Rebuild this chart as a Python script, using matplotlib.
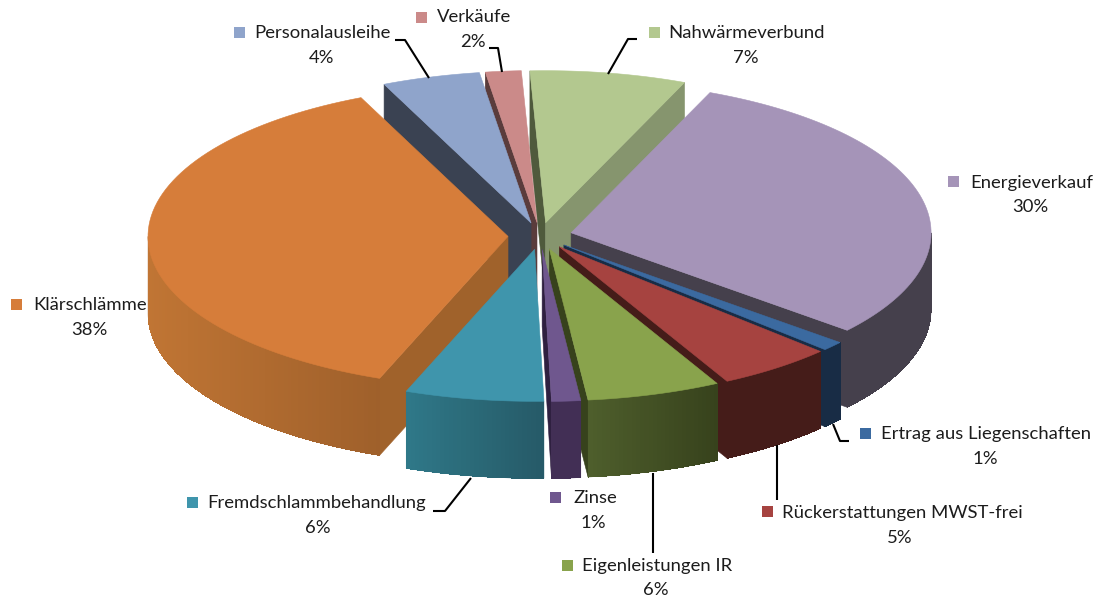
import numpy as np
import matplotlib
matplotlib.use("Agg")
import matplotlib.pyplot as plt
from matplotlib.collections import PolyCollection
from matplotlib.patches import Polygon, Rectangle

categories = ["Energieverkauf", "Ertrag aus Liegenschaften", "Rückerstattungen MWST-frei",
              "Eigenleistungen IR", "Zinse", "Fremdschlammbehandlung", "Klärschlämme",
              "Personalausleihe", "Verkäufe", "Nahwärmeverbund"]
values = [29.78, 1.0, 5.2, 6.0, 1.3, 6.22, 37.5, 4.4, 1.6, 7.0]

top_colors = ["#A594B8", "#3B6AA0", "#A64340", "#89A34C", "#6F578E",
              "#3F95AC", "#D67D3A", "#8FA4CB", "#CB8A89", "#B3C88F"]
wall_from = ["#45404C", "#182C45", "#451C19", "#4E5E2C", "#422F55",
             "#2F7888", "#C07534", "#3A4252", "#5A3C3C", "#86956E"]
wall_to = ["#45404C", "#182C45", "#451C19", "#37421C", "#422F55",
           "#265A67", "#9F602B", "#3A4252", "#5A3C3C", "#86956E"]
cut_start = ["#45404C", "#182C45", "#451C19", "#37421C", "#2F2040",
             "#265A67", "#A0622B", "#3A4252", "#5A3C3C", "#4F5A3C"]
cut_end = ["#45404C", "#182C45", "#451C19", "#37421C", "#2F2040",
           "#265A67", "#A0622B", "#3A4252", "#5A3C3C", "#86956E"]

draw_order = [9, 8, 7, 0, 6, 1, 2, 3, 4, 5]

CX, CY, RX, RY, DEPTH, EXPLODE = 540, 236, 360, 152, 77, 32
FIRST_ANGLE = 22.7

# label layout: square centre, text left, name centre y, percent centre
label_layout = {
    "Personalausleihe": (239, 32, 254, 33, 322, 58),
    "Verkäufe": (421, 17, 437, 17, 473, 42),
    "Nahwärmeverbund": (654, 32, 668, 33, 746, 58),
    "Energieverkauf": (953, 181, 970, 183, 1030, 207),
    "Ertrag aus Liegenschaften": (865, 433, 881, 434, 985, 459),
    "Rückerstattungen MWST-frei": (767, 511, 782, 513, 900, 538),
    "Eigenleistungen IR": (567, 565, 582, 566, 656, 590),
    "Zinse": (555, 497, 573, 498, 593, 523),
    "Fremdschlammbehandlung": (192, 502, 207, 503, 318, 528),
    "Klärschlämme": (16, 304, 33, 305, 89, 330),
}
leaders = [
    ([395, 405, 429], [40, 40, 78]),
    ([489, 498, 502], [48, 48, 72]),
    ([637, 628, 608], [39, 39, 74]),
    ([833, 840, 849], [424, 441, 441]),
    ([777, 777], [445, 500]),
    ([653, 653], [473, 553]),
    ([471, 445, 433], [478, 511, 511]),
]

plt.rcParams["font.family"] = ["Lato", "DejaVu Sans"]
fig = plt.figure(figsize=(11, 5.97), dpi=100)
ax = fig.add_axes([0, 0, 1, 1])
ax.set_xlim(0, 1100)
ax.set_ylim(597, 0)
ax.axis("off")

vals = np.array(values, dtype=float)
spans = vals / vals.sum() * 360
starts = FIRST_ANGLE + np.concatenate([[0], np.cumsum(spans)[:-1]])


def rim(ax_, ay_, deg):
    t = np.radians(deg)
    return ax_ + RX * np.sin(t), ay_ - RY * np.cos(t)


def mix(a, b, f):
    ca = np.array(matplotlib.colors.to_rgb(a))
    cb = np.array(matplotlib.colors.to_rgb(b))
    return tuple(ca + (cb - ca) * f)


z = 1
for i in draw_order:
    a0, a1 = starts[i], starts[i] + spans[i]
    mid = np.radians((a0 + a1) / 2)
    ox = CX + EXPLODE * np.sin(mid)
    oy = CY - EXPLODE * (RY / RX) * np.cos(mid)

    for ang, col, vis in ((a0, cut_start[i], np.sin(np.radians(a0)) < 0),
                          (a1, cut_end[i], np.sin(np.radians(a1)) > 0)):
        if vis:
            x, y = rim(ox, oy, ang)
            ax.add_patch(Polygon([(ox, oy), (x, y), (x, y + DEPTH), (ox, oy + DEPTH)],
                                 closed=True, fc=col, ec=col, lw=0.4, zorder=z))
            z += 1

    w0, w1 = max(a0, 90), min(a1, 270)
    if w1 > w0:
        th = np.linspace(w0, w1, max(int((w1 - w0) * 1.5), 3))
        xs, ys = rim(ox, oy, th)
        avg = mix(wall_from[i], wall_to[i], 0.5)
        ax.add_patch(Polygon(np.column_stack([np.r_[xs, xs[::-1]],
                                              np.r_[ys, ys[::-1] + DEPTH]]),
                             closed=True, fc=avg, ec=avg, lw=0.3, zorder=z))
        z += 1
        lo, hi = xs.min(), xs.max()
        polys, cols = [], []
        for k in range(len(th) - 1):
            polys.append([(xs[k], ys[k]), (xs[k + 1], ys[k + 1]),
                          (xs[k + 1], ys[k + 1] + DEPTH), (xs[k], ys[k] + DEPTH)])
            f = ((xs[k] + xs[k + 1]) / 2 - lo) / max(hi - lo, 1e-6)
            cols.append(mix(wall_from[i], wall_to[i], f))
        ax.add_collection(PolyCollection(polys, facecolors=cols, edgecolors="none",
                                         linewidths=0, antialiaseds=False, zorder=z))
        z += 1

    xs, ys = rim(ox, oy, np.linspace(a0, a1, 80))
    ax.add_patch(Polygon(np.column_stack([np.r_[ox, xs], np.r_[oy, ys]]), closed=True,
                         fc=top_colors[i], ec=top_colors[i], lw=0.4, zorder=z))
    z += 1

for xs, ys in leaders:
    ax.plot(xs, ys, color="black", lw=1.5, zorder=z, solid_capstyle="butt")

z += 1
for name, val, col in zip(categories, vals, top_colors):
    sx, sy, tx, ty, px, py = label_layout[name]
    ax.add_patch(Rectangle((sx - 5.5, sy - 5.5), 11, 11, fc=col, ec="none", zorder=z))
    ax.text(tx, ty, name, ha="left", va="center", fontsize=13.3, color="#1c1c1c", zorder=z)
    ax.text(px, py, f"{val:.0f}%", ha="center", va="center", fontsize=13.3,
            color="#1c1c1c", zorder=z)

fig.savefig("out.png", dpi=100, facecolor="white")
